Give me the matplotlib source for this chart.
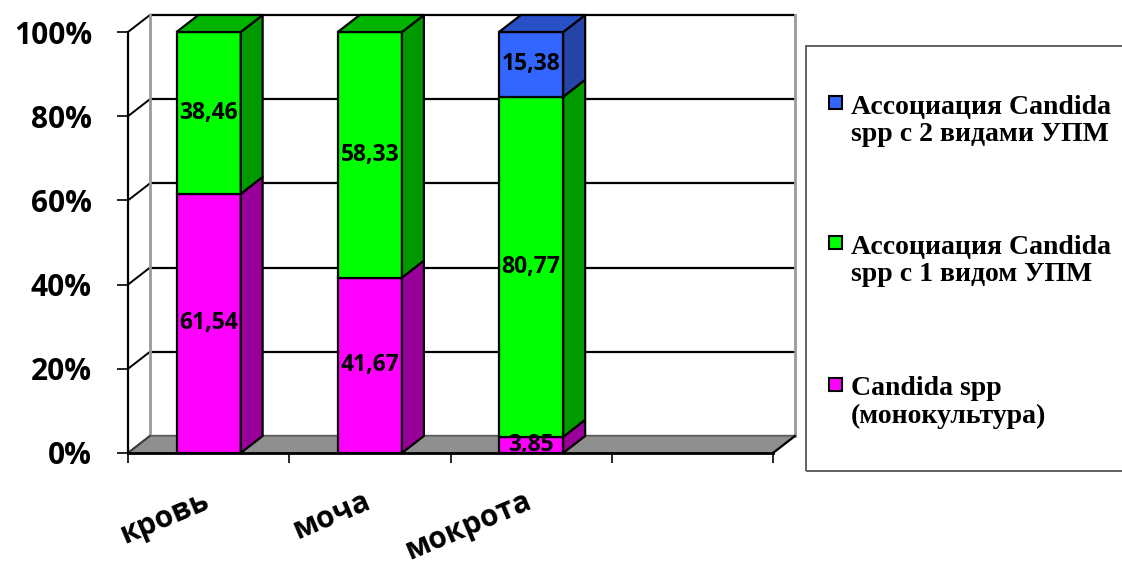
import matplotlib
matplotlib.use("Agg")
import matplotlib.pyplot as plt
from matplotlib.patches import Polygon, Rectangle
import numpy as np

# ---- data -------------------------------------------------------------
categories = ["кровь", "моча", "мокрота", ""]
series_names = [
    "Candida spp\n(монокультура)",
    "Ассоциация Candida\nspp с 1 видом УПМ",
    "Ассоциация Candida\nspp с 2 видами УПМ",
]
mono = [61.54, 41.67, 3.85, 0]
one_upm = [38.46, 58.33, 80.77, 0]
two_upm = [0, 0, 15.38, 0]
y_ticks = [0, 20, 40, 60, 80, 100]
y_tick_labels = ["0%", "20%", "40%", "60%", "80%", "100%"]

series = [mono, one_upm, two_upm]
front_colors = ["#FF00FF", "#00FF00", "#3366FF"]
side_colors = ["#990099", "#009A00", "#2444A8"]
top_colors = ["#B800B8", "#00B400", "#2A50C8"]

SANS = "Open Sans"
SERIF = "Liberation Serif"

# ---- figure / front plane of the 3-D box -----------------------------
W, H = 1122, 565
fig = plt.figure(figsize=(W / 100, H / 100), dpi=100)
fig.patch.set_facecolor("white")
ax = fig.add_axes([128 / W, 112 / H, 645 / W, 421 / H])
ax.set_xlim(-0.5, len(categories) - 0.5)
ax.set_ylim(0, 100)
ax.patch.set_alpha(0)

DX, DY = 0.136, 4.04          # depth offset of the box (category units, %)
HW = 0.199                    # half width of a bar
x_lo, x_hi = -0.5, len(categories) - 0.5

# back wall grid lines and left wall diagonals
for y in y_ticks:
    ax.plot([x_lo + DX, x_hi + DX], [y + DY, y + DY], color="black",
            lw=1.6, clip_on=False, zorder=1, solid_capstyle="butt")
    ax.plot([x_lo, x_lo + DX], [y, y + DY], color="black", lw=1.4,
            clip_on=False, zorder=1)
for xv in (x_lo + DX, x_hi + DX):
    ax.plot([xv, xv], [DY, 100 + DY], color="#9a9a9a", lw=2,
            clip_on=False, zorder=1)

# floor
floor = Polygon([(x_lo, 0), (x_hi, 0), (x_hi + DX, DY), (x_lo + DX, DY)],
                closed=True, facecolor="#8f8f8f", edgecolor="#6a6a6a",
                lw=1.2, clip_on=False, zorder=1.5)
ax.add_patch(floor)
ax.plot([x_hi, x_hi + DX], [0, DY], color="black", lw=1.6, clip_on=False,
        zorder=1.6)
ax.plot([x_lo, x_lo + DX], [0, DY], color="#404040", lw=1.4, clip_on=False,
        zorder=1.6)

# stacked 3-D bars
for i in range(len(categories)):
    bottom = 0.0
    top_idx = max([s for s, vals in enumerate(series) if vals[i] > 0],
                  default=None)
    for s, vals in enumerate(series):
        v = vals[i]
        if v <= 0:
            continue
        t = bottom + v
        ax.add_patch(Rectangle((i - HW, bottom), 2 * HW, v,
                               facecolor=front_colors[s], edgecolor="black",
                               lw=1.6, clip_on=False, zorder=3))
        ax.add_patch(Polygon([(i + HW, bottom), (i + HW + DX, bottom + DY),
                              (i + HW + DX, t + DY), (i + HW, t)],
                             closed=True, facecolor=side_colors[s],
                             edgecolor="black", lw=1.6, clip_on=False,
                             zorder=3))
        if s == top_idx:
            ax.add_patch(Polygon([(i - HW, t), (i + HW, t),
                                  (i + HW + DX, t + DY), (i - HW + DX, t + DY)],
                                 closed=True, facecolor=top_colors[s],
                                 edgecolor="black", lw=1.6, clip_on=False,
                                 zorder=3))
        ax.text(i, bottom + v / 2, f"{v:.2f}".replace(".", ","),
                ha="center", va="center", fontsize=16.5, fontweight="bold",
                family=SANS, color="black", zorder=5, clip_on=False)
        bottom = t

# axes, spines and ticks
for side in ("top", "right"):
    ax.spines[side].set_visible(False)
ax.spines["left"].set_linewidth(1.6)
ax.spines["bottom"].set_linewidth(2.0)
ax.spines["left"].set_zorder(2)
ax.spines["bottom"].set_zorder(2)
ax.set_yticks(y_ticks)
ax.set_yticklabels(y_tick_labels, fontsize=21.5, fontweight="bold",
                   family=SANS)
ax.tick_params(axis="y", length=8, width=1.2, pad=18, colors="black")
ax.set_xticks(np.arange(x_lo, x_hi + 0.01, 1.0))
ax.set_xticklabels([])
ax.tick_params(axis="x", length=7, width=1.2, colors="black")

for i, cat in enumerate(categories):
    if cat:
        ax.text(i + 0.015, -12.8, cat, rotation=23, rotation_mode="anchor",
                ha="right", va="baseline", fontsize=21.5, fontweight="bold",
                family=SANS, clip_on=False)

# legend box (entries listed top to bottom in reverse stacking order)
def fx(px):
    return px / W


def fy(py):
    return 1 - py / H


fig.patches.append(Rectangle((fx(806), fy(471)), fx(340), 425 / H,
                             transform=fig.transFigure, fill=False,
                             edgecolor="#555555", lw=1.3))
entry_y = [121, 261, 402.5]
for k, s in enumerate([2, 1, 0]):
    yc = entry_y[k]
    fig.patches.append(Rectangle((fx(829), fy(yc - 12)), fx(13), 13 / H,
                                 transform=fig.transFigure,
                                 facecolor=front_colors[s], edgecolor="black",
                                 lw=1.5))
    fig.text(fx(851), fy(yc), series_names[s], ha="left", va="center",
             fontsize=20, fontweight="bold", family=SERIF,
             linespacing=1.12)

fig.savefig("out.png", dpi=100)
